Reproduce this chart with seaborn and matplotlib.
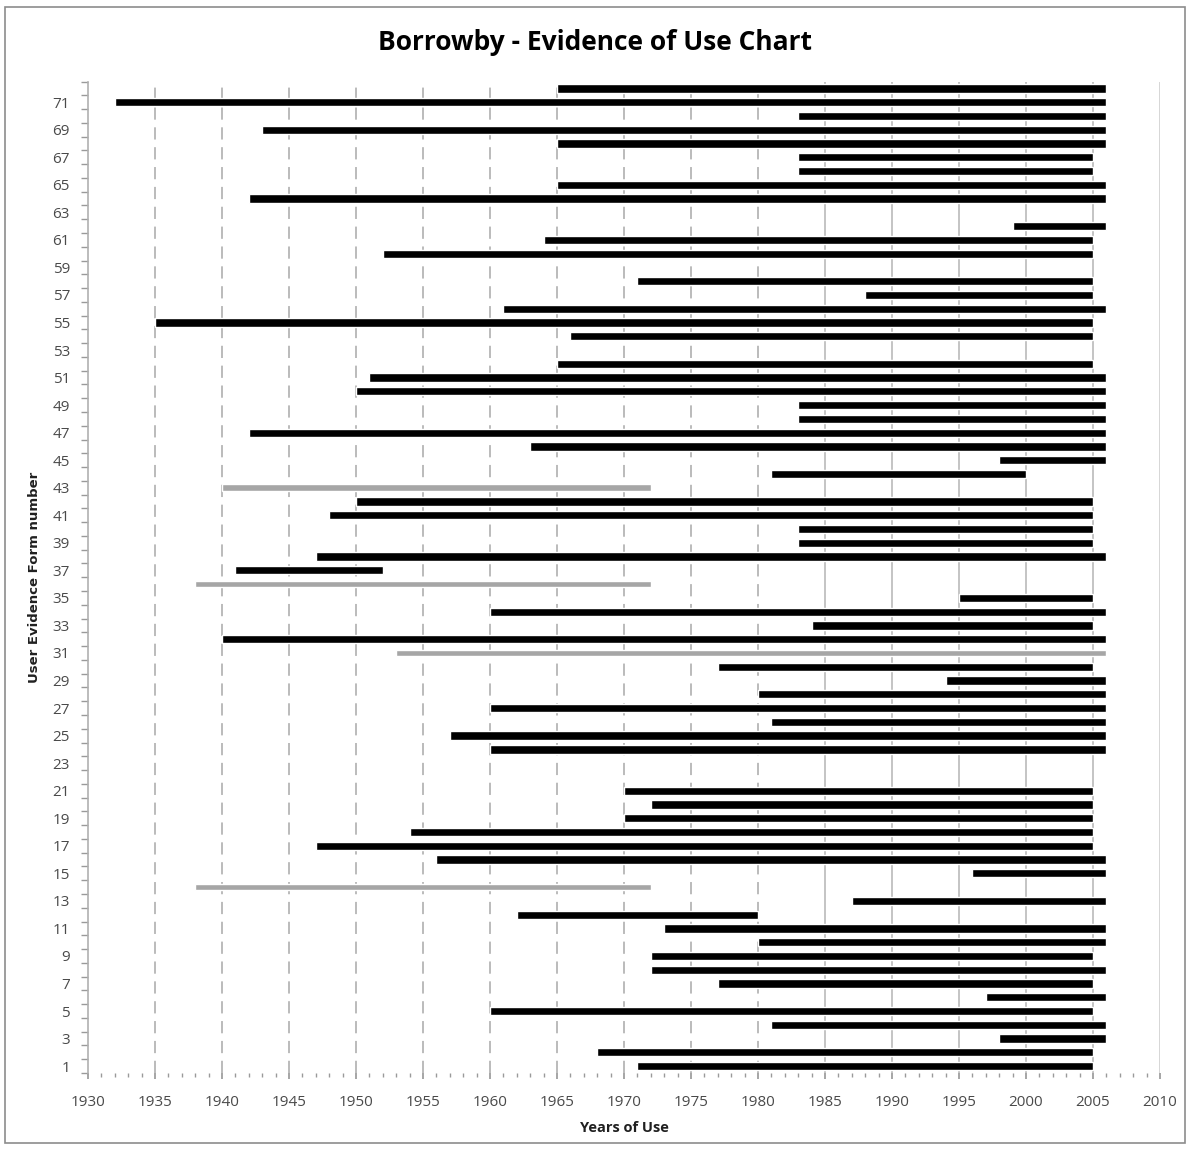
import numpy as np
import pandas as pd
import matplotlib
matplotlib.use('Agg')
import matplotlib.pyplot as plt
from matplotlib.patches import Rectangle
import seaborn as sns

# form number, first year of use, last year of use, doubtful (grey) or not
form_no = [1, 2, 3, 4, 5, 6, 7, 8, 9, 10, 11, 12, 13, 14, 15, 16, 17, 18, 19, 20,
           21, 24, 25, 26, 27, 28, 29, 30, 31, 32, 33, 34, 35, 36, 37, 38, 39, 40,
           41, 42, 43, 44, 45, 46, 47, 48, 49, 50, 51, 52, 54, 55, 56, 57, 58, 60,
           61, 62, 64, 65, 66, 67, 68, 69, 70, 71, 72]
year_from = [1971, 1968, 1998, 1981, 1960, 1997, 1977, 1972, 1972, 1980, 1973, 1962, 1987, 1938, 1996, 1956, 1947, 1954, 1970, 1972,
             1970, 1960, 1957, 1981, 1960, 1980, 1994, 1977, 1953, 1940, 1984, 1960, 1995, 1938, 1941, 1947, 1983, 1983,
             1948, 1950, 1940, 1981, 1998, 1963, 1942, 1983, 1983, 1950, 1951, 1965, 1966, 1935, 1961, 1988, 1971, 1952,
             1964, 1999, 1942, 1965, 1983, 1983, 1965, 1943, 1983, 1932, 1965]
year_to = [2005, 2005, 2006, 2006, 2005, 2006, 2005, 2006, 2005, 2006, 2006, 1980, 2006, 1972, 2006, 2006, 2005, 2005, 2005, 2005,
           2005, 2006, 2006, 2006, 2006, 2006, 2006, 2005, 2006, 2006, 2005, 2006, 2005, 1972, 1952, 2006, 2005, 2005,
           2005, 2005, 1972, 2000, 2006, 2006, 2006, 2006, 2006, 2006, 2006, 2005, 2005, 2005, 2006, 2005, 2005, 2005,
           2005, 2006, 2006, 2006, 2005, 2005, 2006, 2006, 2006, 2006, 2006]
grey_forms = [14, 31, 36, 43]

df = pd.DataFrame({'form': form_no, 'start': year_from, 'end': year_to})
df['years'] = df['end'] - df['start']
df['grey'] = df['form'].isin(grey_forms)

sns.set_theme(style='white')
plt.rcParams['font.family'] = ['Liberation Sans Narrow', 'Open Sans', 'DejaVu Sans']

W, H = 1190, 1149
fig = plt.figure(figsize=(W / 100, H / 100), dpi=100)
fig.patch.set_facecolor('white')
ax = fig.add_axes([88 / W, 1 - 1073 / H, (1160 - 88) / W, (1073 - 81.5) / H])

# grid lines every 5 years
for yr in range(1935, 2011, 5):
    if yr <= 1980:
        ax.axvline(yr, color='#a8a8a8', lw=1.1, ls=(0, (8, 5)), zorder=0)
    elif yr < 2010:
        ax.axvline(yr, color='#b4b4b4', lw=1.1, zorder=0)
    else:
        ax.axvline(yr, color='#d0d0d0', lw=1.2, zorder=0)

blk = df[~df['grey']]
gry = df[df['grey']]
ax.barh(blk['form'], blk['years'], left=blk['start'], height=0.6, color='black', zorder=3)
ax.barh(gry['form'], gry['years'], left=gry['start'], height=0.48, color='#a6a6a6', zorder=3)

ax.set_xlim(1930, 2010)
ax.set_ylim(0.5, 72.5)

ax.set_xticks(range(1930, 2011, 5))
ax.set_xticks(range(1930, 2011, 1), minor=True)
ax.set_yticks(range(1, 73, 2))
ax.set_yticks(np.arange(0.5, 73, 1), minor=True)

ax.tick_params(axis='x', which='major', direction='out', length=4, color='#9a9a9a',
               labelsize=11, labelcolor='#4a4a4a', pad=12, bottom=True)
ax.tick_params(axis='x', which='minor', direction='out', length=3, color='#9a9a9a', bottom=True)
ax.tick_params(axis='y', which='major', length=0, labelsize=11, labelcolor='#4a4a4a', pad=13, left=True)
ax.tick_params(axis='y', which='minor', direction='out', length=5, color='#9a9a9a', left=True)

for s in ['top', 'right', 'bottom']:
    ax.spines[s].set_visible(False)
ax.spines['left'].set_color('#b0b0b0')
ax.spines['left'].set_linewidth(1.2)

ax.set_xlabel('Years of Use', fontsize=10.5, fontweight='bold', color='#202020', labelpad=8)
ax.set_ylabel('User Evidence Form number', fontsize=9.5, fontweight='bold', color='#202020', labelpad=8,
              family=['DejaVu Sans'])
fig.text(0.5, 1 - 42 / H, 'Borrowby - Evidence of Use Chart', ha='center', va='center',
         fontsize=19, fontweight='bold', color='black')

# chart area border
fig.patches.append(Rectangle((5 / W, 6 / H), 1 - 10 / W, 1 - 13 / H, transform=fig.transFigure,
                             fill=False, edgecolor='#8c8c8c', lw=1.2))

fig.savefig('out.png', dpi=100, facecolor='white')
